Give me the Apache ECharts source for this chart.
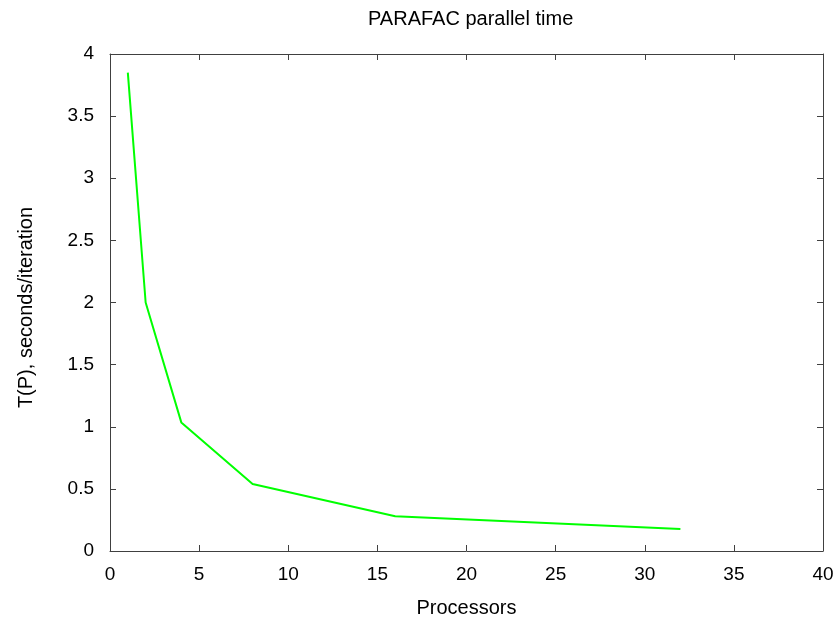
<!DOCTYPE html>
<html><head><meta charset="utf-8">
<script src="https://cdn.jsdelivr.net/npm/echarts@6/dist/echarts.min.js"></script>
<style>html,body{margin:0;padding:0;background:#fff}#c{width:838px;height:623px}</style>
</head><body><div id="c"></div>
<script>
const processors = [1, 2, 4, 8, 16, 32];
const timePerIter = [3.85, 2.0, 1.035, 0.54, 0.28, 0.178];
const xTicks = [0, 5, 10, 15, 20, 25, 30, 35, 40];
const yTicks = [0, 0.5, 1, 1.5, 2, 2.5, 3, 3.5, 4];

const chart = echarts.init(document.getElementById('c'));
const font = 'Liberation Sans, Arial, sans-serif';
const axisCol = '#404040';
function ax(extra) {
  return Object.assign({
    type: 'value',
    axisLine: {show: true, onZero: false, lineStyle: {color: axisCol, width: 1}},
    axisTick: {show: true, inside: true, length: 6, lineStyle: {color: axisCol}},
    splitLine: {show: false}
  }, extra);
}
chart.setOption({
  animation: false,
  title: {text: 'PARAFAC parallel time', left: 363, top: 4,
    textStyle: {fontFamily: font, fontSize: 20, fontWeight: 'normal', color: '#000'}},
  grid: {left: 110, right: 15, top: 54, bottom: 70},
  xAxis: [
    ax({position: 'bottom', min: xTicks[0], max: xTicks[xTicks.length-1], interval: 5,
      name: 'Processors', nameLocation: 'middle', nameGap: 47,
      nameTextStyle: {fontFamily: font, fontSize: 20, color: '#000'},
      axisLabel: {fontFamily: font, fontSize: 19, color: '#000', margin: 14}}),
    ax({position: 'top', min: xTicks[0], max: xTicks[xTicks.length-1], interval: 5,
      axisLabel: {show: false}})
  ],
  yAxis: [
    ax({position: 'left', min: yTicks[0], max: yTicks[yTicks.length-1], interval: 0.5,
      name: 'T(P), seconds/iteration', nameLocation: 'middle', nameGap: 74,
      nameTextStyle: {fontFamily: font, fontSize: 20, color: '#000', padding: [0, 10, 0, 0]},
      axisLabel: {fontFamily: font, fontSize: 19, color: '#000', margin: 16}}),
    ax({position: 'right', min: yTicks[0], max: yTicks[yTicks.length-1], interval: 0.5,
      axisLabel: {show: false}})
  ],
  series: [{
    type: 'line', xAxisIndex: 0, yAxisIndex: 0,
    data: processors.map((p, i) => [p, timePerIter[i]]),
    symbol: 'none', lineStyle: {color: '#00ff00', width: 2}
  }]
});
</script></body></html>
